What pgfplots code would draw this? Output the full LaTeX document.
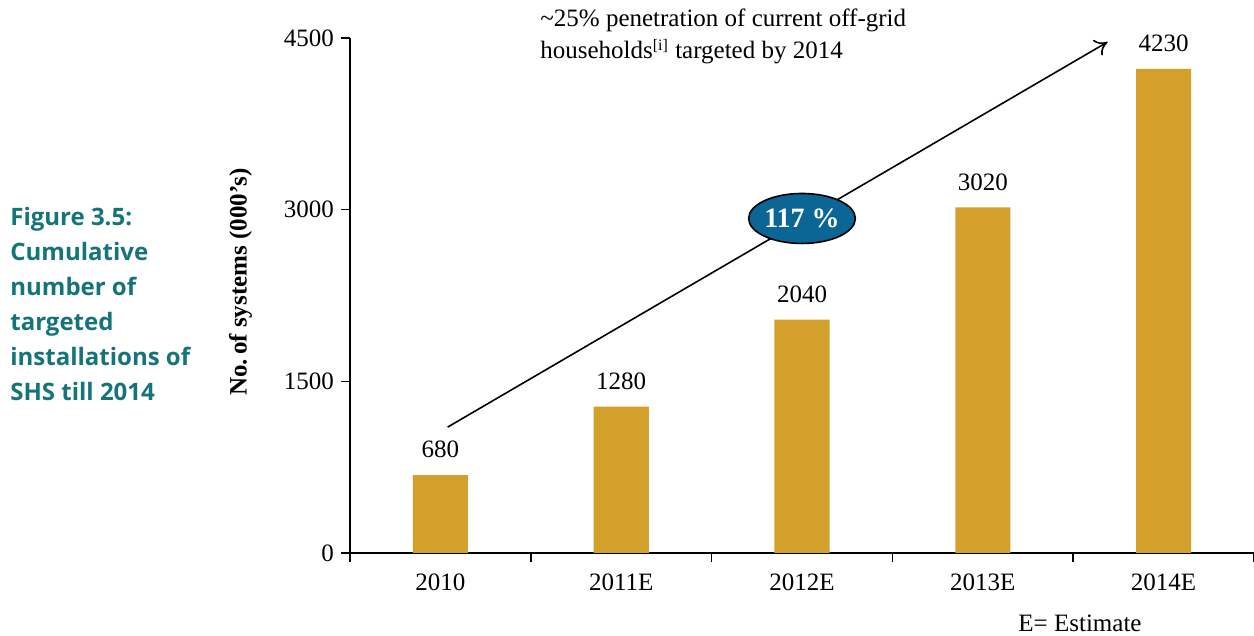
\documentclass[border=0pt]{standalone}
\usepackage{fontspec}
\setmainfont{Liberation Serif}
\newfontfamily\titlefont{Open Sans}
\usepackage{pgfplots}
\pgfplotsset{compat=1.18}
\usetikzlibrary{shapes.geometric,arrows.meta}
\definecolor{barcol}{HTML}{D4A02C}
\definecolor{titleteal}{HTML}{157478}
\definecolor{ellblue}{HTML}{0B6595}
\begin{document}
\begin{tikzpicture}[x=0.5bp,y=0.5bp,font=\fontsize{12.5bp}{15bp}\selectfont]
\path[use as bounding box] (0,0) rectangle (1254,635);
\coordinate (O) at (350,82);
\begin{axis}[
  at={(O)}, anchor=south west, scale only axis,
  width=452bp, height=257.5bp,
  xmin=-0.5, xmax=4.5, ymin=0, ymax=4500,
  axis x line*=bottom, axis y line*=left,
  axis line style={line width=0.9pt,-},
  tick style={line width=0.8pt, black},
  tick align=outside, major tick length=4.5bp,
  xtick={-0.5,0.5,1.5,2.5,3.5,4.5}, xticklabels={},
  extra x ticks={0,1,2,3,4},
  extra x tick labels={2010,2011E,2012E,2013E,2014E},
  extra x tick style={major tick length=0pt, tick label style={yshift=-7bp}},
  ytick={0,1500,3000,4500},
  tick label style={font=\fontsize{12.5bp}{15bp}\selectfont},
  /pgf/number format/assume math mode=true,
  /pgf/number format/set thousands separator={},
  ylabel={\bfseries No.\,of systems (000’s)},
  ylabel style={at={(axis description cs:-0.121,0.526)}, anchor=center, font=\fontsize{12.5bp}{15bp}\selectfont},
  ybar, bar width=0.305, bar shift=0pt,
  nodes near coords,
  nodes near coords style={font=\fontsize{12.5bp}{15bp}\selectfont, yshift=5bp, /pgf/number format/assume math mode=true},
  clip=false,
]
\addplot[fill=barcol, draw=none] coordinates {(0,680) (1,1280) (2,2040) (3,3020) (4,4230)};
\draw[line width=0.8pt, -{To[length=6bp,width=9bp]}] (axis cs:0.04,1100) -- (axis cs:3.69,4465);
\node[ellipse, draw=black, line width=0.8pt, fill=ellblue, minimum width=52bp, minimum height=25bp, inner sep=0pt,
      text=white, font=\fontsize{14bp}{16bp}\selectfont\bfseries] at (axis cs:2.0,2923) {117 \%};
\end{axis}
\node[anchor=north west, align=left, inner sep=0pt] at (540,626)
  {\char126\relax 25\% penetration of current off-grid\\[1bp] households\textsuperscript{\fontsize{8bp}{9bp}\selectfont[i]} targeted by 2014};
\node[anchor=center, inner sep=0pt] at (1080,12) {E= Estimate};
\node[anchor=north west, align=left, inner sep=0pt, text=titleteal,
      font=\titlefont\bfseries\fontsize{12bp}{17.5bp}\selectfont] at (10,428)
  {Figure 3.5:\\Cumulative\\number of\\targeted\\installations of\\SHS till 2014};
\end{tikzpicture}
\end{document}
